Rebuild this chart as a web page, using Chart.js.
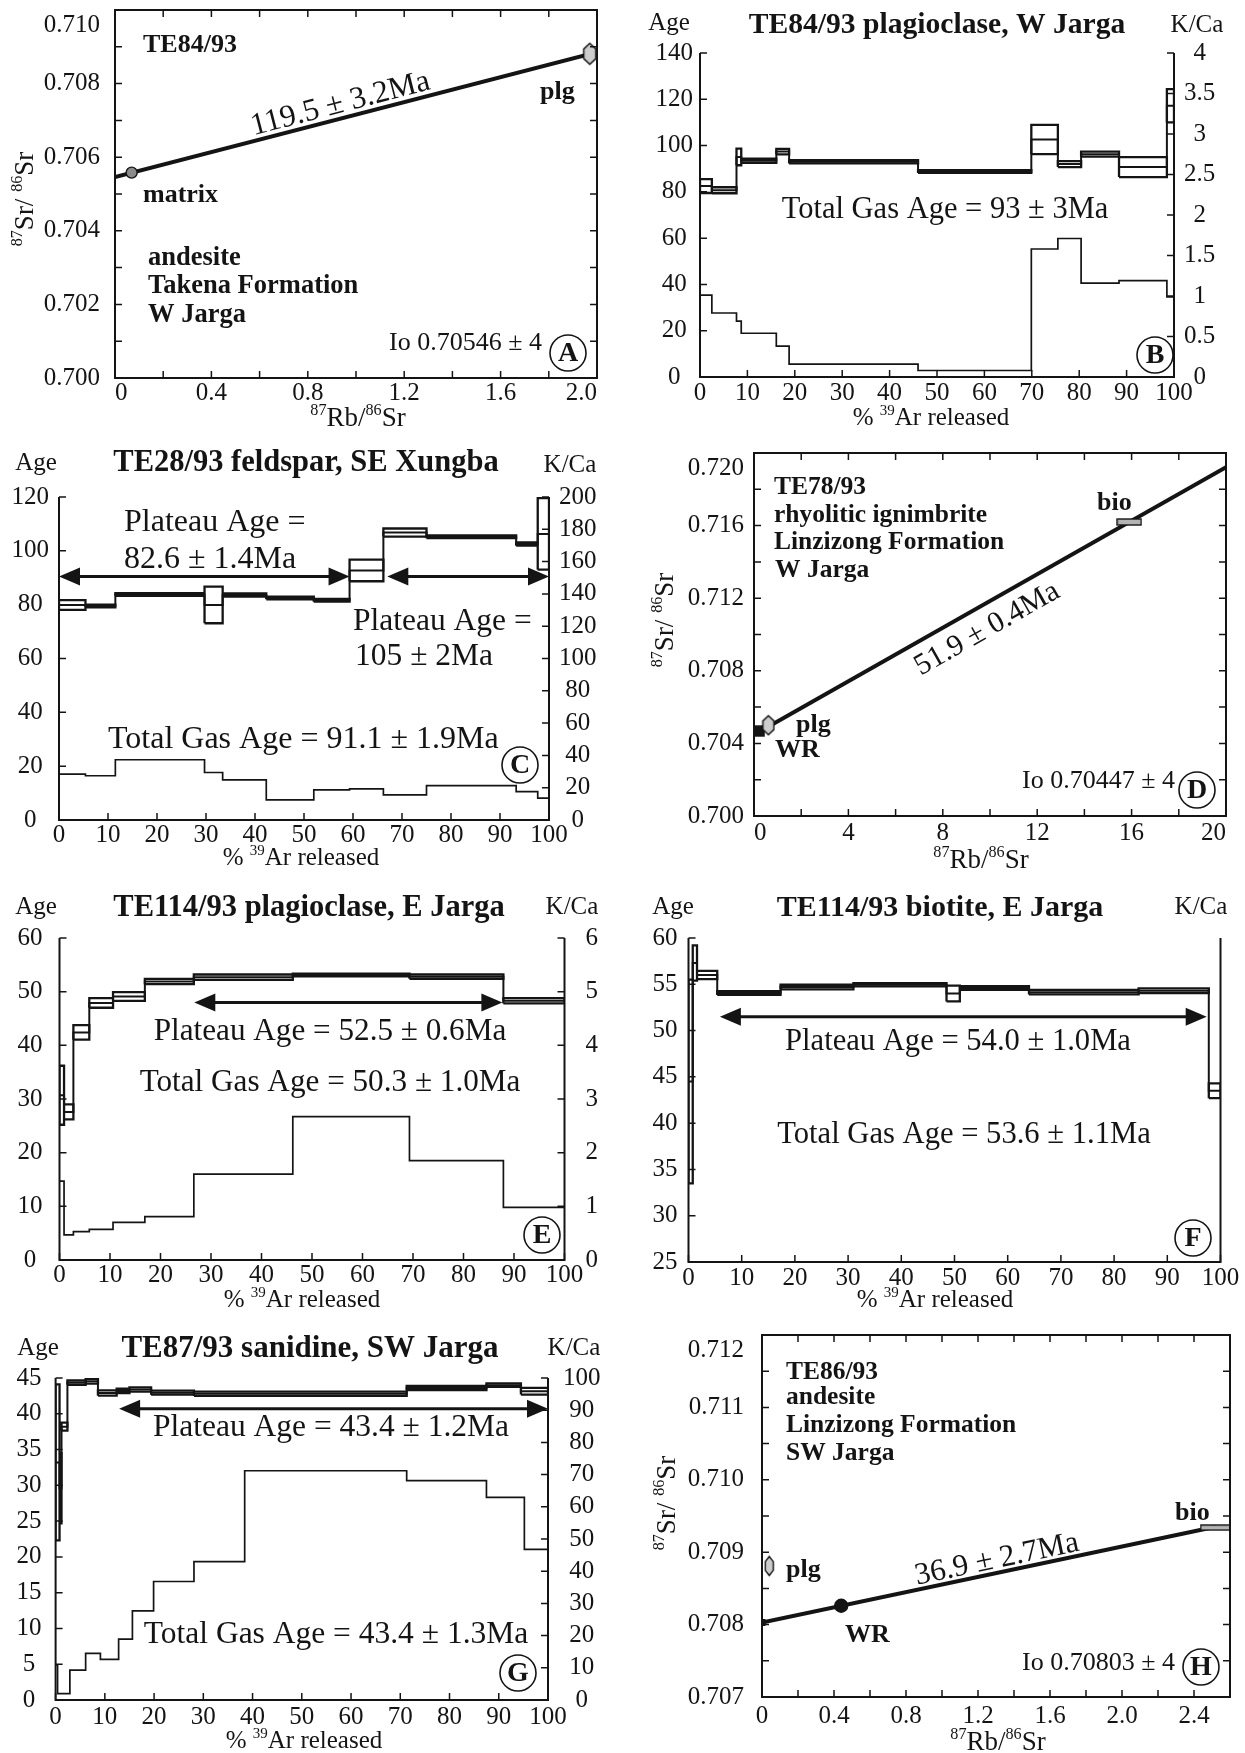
<!DOCTYPE html>
<html>
<head>
<meta charset="utf-8">
<title>Rb–Sr isochrons and 40Ar/39Ar age spectra, Jarga and Xungba</title>
<script src="https://cdn.jsdelivr.net/npm/chart.js@4.4.1/dist/chart.umd.min.js"></script>
<style>
  html, body { margin: 0; padding: 0; background: #fff; }
  #sheet { position: relative; width: 1245px; height: 1753px; overflow: hidden; background: #fff; }
  #sheet canvas { position: absolute; }
</style>
</head>
<body>
<div id="sheet">
  <canvas id="panelA" width="622" height="440" style="left:0px;top:0px"></canvas>
  <canvas id="panelB" width="623" height="440" style="left:622px;top:0px"></canvas>
  <canvas id="panelC" width="622" height="440" style="left:0px;top:440px"></canvas>
  <canvas id="panelD" width="623" height="440" style="left:622px;top:440px"></canvas>
  <canvas id="panelE" width="622" height="440" style="left:0px;top:880px"></canvas>
  <canvas id="panelF" width="623" height="440" style="left:622px;top:880px"></canvas>
  <canvas id="panelG" width="622" height="433" style="left:0px;top:1320px"></canvas>
  <canvas id="panelH" width="623" height="433" style="left:622px;top:1320px"></canvas>
</div>
<script>
// ===================== Rb–Sr isochron data =====================
// A — TE84/93 andesite, Takena Formation (matrix, plagioclase)
const isoA_phase = ['matrix', 'plg'];
const isoA_rb = [0.069, 1.97];            // 87Rb/86Sr
const isoA_sr = [0.70558, 0.70881];       // 87Sr/86Sr
const isoA_age = 119.5;                   // Ma
const isoA_io = 0.70546;                  // initial 87Sr/86Sr
const isoA_span = [0, 2.0];               // drawn extent of the isochron

// D — TE78/93 rhyolitic ignimbrite, Linzizong Formation
const isoD_phase = ['WR', 'plg', 'bio'];
const isoD_rb = [0.2, 0.61, 15.9];
const isoD_sr = [0.70468, 0.70500, 0.71620];
const isoD_age = 51.9;
const isoD_io = 0.70447;
const isoD_span = [0.6, 20];

// H — TE86/93 andesite, Linzizong Formation
const isoH_phase = ['Io', 'WR', 'plg', 'bio'];
const isoH_rb = [0, 0.44, 0.04, 2.52];
const isoH_sr = [0.70803, 0.70826, 0.70881, 0.70934];
const isoH_age = 36.9;
const isoH_io = 0.70803;
const isoH_span = [0, 2.52];

// ===================== 40Ar/39Ar step-heating data =====================
// cumulative % 39Ar at step boundaries, apparent age (Ma), 1σ half-height, K/Ca
// B — TE84/93 plagioclase
const specB_cum = [0, 2.5, 7.7, 8.7, 16.1, 18.8, 46.0, 69.9, 75.5, 80.4, 88.4, 98.5, 100];
const specB_age = [82.5, 80.7, 95.1, 93.4, 97.4, 93.0, 88.8, 102.6, 92.0, 96.3, 90.7, 117.2];
const specB_err = [3.0, 1.3, 3.6, 0.9, 1.2, 0.7, 0.6, 6.3, 1.3, 1.1, 4.3, 7.2];
const specB_kca = [1.01, 0.79, 0.69, 0.54, 0.38, 0.16, 0.08, 1.58, 1.71, 1.16, 1.19, 0.99];

// C — TE28/93 feldspar
const specC_cum = [0, 5.4, 11.5, 29.7, 33.4, 42.3, 52.0, 59.3, 66.2, 75.0, 93.3, 97.7, 100];
const specC_age = [79.9, 79.5, 83.8, 79.9, 83.6, 82.5, 81.6, 92.7, 106.8, 105.2, 102.5, 106.3];
const specC_err = [1.8, 0.5, 0.5, 6.8, 0.6, 0.5, 0.5, 4.0, 1.5, 0.5, 0.6, 13.3];
const specC_kca = [28.4, 27.4, 37.3, 29.4, 24.9, 12.4, 18.7, 19.3, 15.5, 21.3, 17.6, 13.5];
const plateauC_from = [0, 67.0];
const plateauC_to = [59.3, 100];
const plateauC_at = [90.5, 90.5];

// E — TE114/93 plagioclase
const specE_cum = [0, 0.9, 2.75, 5.9, 10.6, 16.9, 26.6, 46.2, 69.3, 87.9, 100];
const specE_age = [30.7, 27.6, 42.4, 47.9, 49.1, 51.9, 52.7, 53.1, 52.8, 48.3];
const specE_err = [5.5, 1.4, 1.35, 0.9, 0.8, 0.5, 0.5, 0.25, 0.4, 0.5];
const specE_kca = [1.47, 0.47, 0.53, 0.57, 0.70, 0.81, 1.60, 2.67, 1.85, 0.98];
const plateauE_from = [26.7];
const plateauE_to = [87.7];
const plateauE_at = [48.0];

// F — TE114/93 biotite
const specF_cum = [0, 0.8, 1.6, 5.4, 17.3, 31.0, 48.5, 51.0, 64.0, 84.6, 97.8, 100];
const specF_age = [44.5, 57.3, 56.0, 54.05, 54.7, 54.95, 54.0, 54.6, 54.15, 54.3, 43.5];
const specF_err = [11.0, 1.9, 0.45, 0.2, 0.25, 0.18, 0.85, 0.2, 0.25, 0.25, 0.8];
const plateauF_from = [5.9];
const plateauF_to = [97.4];
const plateauF_at = [51.5];

// G — TE87/93 sanidine
const specG_cum = [0, 0.8, 1.2, 2.4, 6.1, 8.6, 12.4, 15.0, 19.4, 28.1, 71.3, 87.5, 94.5, 100];
const specG_age = [33.2, 29.6, 38.2, 44.35, 44.55, 42.9, 43.2, 43.4, 42.95, 42.8, 43.6, 44.0, 43.15];
const specG_err = [10.9, 4.9, 0.55, 0.3, 0.33, 0.37, 0.3, 0.3, 0.28, 0.3, 0.28, 0.25, 0.47];
const specG_kcaCum = [0, 0.4, 2.9, 6.1, 9.1, 12.8, 15.6, 19.9, 28.1, 38.4, 71.3, 87.5, 95.2, 100];
const specG_kca = [10.9, 2.0, 9.3, 14.5, 12.6, 18.9, 27.7, 36.8, 43.0, 71.2, 68.1, 62.9, 46.8];
const plateauG_from = [12.9];
const plateauG_to = [100];
const plateauG_at = [40.7];

// ===================== drawing =====================
const SERIF = '"Liberation Serif", "Times New Roman", "DejaVu Serif", serif';
const INK = '#141414';
Chart.defaults.font.family = SERIF;
Chart.defaults.font.size = 25;
Chart.defaults.color = INK;

const LAMBDA_RB = 1.42e-11;                       // 87Rb decay constant (1/yr)
const isochronSlope = ageMa => Math.expm1(LAMBDA_RB * ageMa * 1e6);
const font = (size, bold) => (bold ? 'bold ' : '') + size + 'px ' + SERIF;
const isStep = (v, step) => Math.abs(v / step - Math.round(v / step)) < 1e-6;

function boxPoints(cum, age, err) {
  const pts = [];
  age.forEach((a, i) => {
    const x0 = cum[i], x1 = cum[i + 1], lo = a - err[i], hi = a + err[i];
    pts.push({x: x0, y: lo}, {x: x1, y: lo}, {x: x1, y: hi}, {x: x0, y: hi}, {x: x0, y: lo}, {x: null, y: null});
  });
  return pts;
}
function stairPoints(cum, val) {
  const pts = [];
  val.forEach((v, i) => pts.push({x: cum[i], y: v}, {x: cum[i + 1], y: v}));
  return pts;
}

function hexMarker(w, h, fill) {
  const c = document.createElement('canvas');
  c.width = w + 3; c.height = h + 3;
  const g = c.getContext('2d');
  const o = 1.5;
  g.beginPath();
  g.moveTo(o + w * 0.5, o);
  g.lineTo(o + w, o + h * 0.27);
  g.lineTo(o + w, o + h * 0.73);
  g.lineTo(o + w * 0.5, o + h);
  g.lineTo(o, o + h * 0.73);
  g.lineTo(o, o + h * 0.27);
  g.closePath();
  g.fillStyle = fill; g.fill();
  g.lineWidth = 1.4; g.strokeStyle = INK; g.stroke();
  return c;
}
function barMarker(w, h, fill) {
  const c = document.createElement('canvas');
  c.width = w + 2; c.height = h + 2;
  const g = c.getContext('2d');
  g.fillStyle = fill; g.fillRect(1, 1, w, h);
  g.lineWidth = 1.4; g.strokeStyle = INK; g.strokeRect(1, 1, w, h);
  return c;
}

function text(ctx, s, x, y, size, bold, align) {
  ctx.font = font(size, bold);
  ctx.textAlign = align || 'left';
  ctx.textBaseline = 'middle';
  ctx.fillText(s, x, y);
}
// text with superscript isotope numbers; (x, y) is the centre of the run
function richText(ctx, parts, x, y, size, rot) {
  ctx.save();
  ctx.translate(x, y);
  if (rot) ctx.rotate(rot);
  ctx.textAlign = 'left';
  ctx.textBaseline = 'alphabetic';
  let w = 0;
  parts.forEach(([t, sup]) => { ctx.font = font(sup ? size * 0.6 : size); w += ctx.measureText(t).width; });
  let cx = -w / 2;
  const base = size * 0.33;
  parts.forEach(([t, sup]) => {
    ctx.font = font(sup ? size * 0.6 : size);
    ctx.fillText(t, cx, sup ? base - size * 0.42 : base);
    cx += ctx.measureText(t).width;
  });
  ctx.restore();
}
function circled(ctx, letter, x, y) {
  ctx.lineWidth = 1.6;
  ctx.beginPath(); ctx.arc(x, y, 18, 0, Math.PI * 2); ctx.stroke();
  text(ctx, letter, x, y + 1, 28, true, 'center');
}
function arrow(ctx, x0, x1, y) {
  const hl = 21, hw = 9;
  ctx.lineWidth = 3;
  ctx.beginPath(); ctx.moveTo(x0 + hl - 2, y); ctx.lineTo(x1 - hl + 2, y); ctx.stroke();
  ctx.beginPath(); ctx.moveTo(x0, y); ctx.lineTo(x0 + hl, y - hw); ctx.lineTo(x0 + hl, y + hw); ctx.closePath(); ctx.fill();
  ctx.beginPath(); ctx.moveTo(x1, y); ctx.lineTo(x1 - hl, y - hw); ctx.lineTo(x1 - hl, y + hw); ctx.closePath(); ctx.fill();
}

const ARTITLE = [['% ', 0], ['39', 1], ['Ar released', 0]];
const RBSR = [['87', 1], ['Rb/', 0], ['86', 1], ['Sr', 0]];
const SRSR = [['87', 1], ['Sr/ ', 0], ['86', 1], ['Sr', 0]];

// overlay: frame, inward ticks, arrows and lettering
function decoration(p) {
  return {
    id: 'deco',
    afterDraw(chart) {
      const ctx = chart.ctx, ca = chart.chartArea, S = chart.scales;
      const X = v => v - p.ox, Y = v => v - p.oy;
      ctx.save();
      ctx.strokeStyle = INK; ctx.fillStyle = INK;
      ctx.lineWidth = 2;
      ctx.beginPath();
      if (p.boxed) {
        ctx.rect(ca.left, ca.top, ca.right - ca.left, ca.bottom - ca.top);
      } else {
        ctx.moveTo(ca.left, ca.top); ctx.lineTo(ca.left, ca.bottom);
        ctx.lineTo(ca.right, ca.bottom); ctx.lineTo(ca.right, ca.top);
      }
      ctx.stroke();

      const T = 7;
      ctx.lineWidth = 1.5;
      ctx.beginPath();
      S.x.ticks.forEach(t => {
        const x = S.x.getPixelForValue(t.value);
        ctx.moveTo(x, ca.bottom); ctx.lineTo(x, ca.bottom - T);
        if (p.boxed) { ctx.moveTo(x, ca.top); ctx.lineTo(x, ca.top + T); }
      });
      S.y.ticks.forEach(t => {
        const y = S.y.getPixelForValue(t.value);
        ctx.moveTo(ca.left, y); ctx.lineTo(ca.left + T, y);
        if (p.boxed) { ctx.moveTo(ca.right, y); ctx.lineTo(ca.right - T, y); }
      });
      if (S.y2) S.y2.ticks.forEach(t => {
        const y = S.y2.getPixelForValue(t.value);
        ctx.moveTo(ca.right, y); ctx.lineTo(ca.right - T, y);
      });
      ctx.stroke();

      if (p.arrows) {
        const [from, to, at] = p.arrows;
        from.forEach((f, i) => arrow(ctx, S.x.getPixelForValue(f), S.x.getPixelForValue(to[i]), S.y.getPixelForValue(at[i])));
      }

      if (p.title) text(ctx, p.title[0], X(p.title[1]), Y(p.title[2]), p.title[3], true, 'center');
      if (p.ageLbl) text(ctx, 'Age', X(p.ageLbl[0]), Y(p.ageLbl[1]), 25, false, 'center');
      if (p.kcaLbl) text(ctx, 'K/Ca', X(p.kcaLbl[0]), Y(p.kcaLbl[1]), 25, false, 'center');
      (p.notes || []).forEach(n => text(ctx, n[0], X(n[1]), Y(n[2]), n[3], n[4], n[5]));
      richText(ctx, p.xTitle[0], X(p.xTitle[1]), Y(p.xTitle[2]), p.xTitle[3]);
      if (p.yTitle) richText(ctx, p.yTitle[0], X(p.yTitle[1]), Y(p.yTitle[2]), p.yTitle[3], -Math.PI / 2);

      if (p.iso) {
        const {io, age, span, at, off, label, size} = p.iso;
        const m = isochronSlope(age);
        const px0 = S.x.getPixelForValue(span[0]), py0 = S.y.getPixelForValue(io + m * span[0]);
        const px1 = S.x.getPixelForValue(span[1]), py1 = S.y.getPixelForValue(io + m * span[1]);
        const ang = Math.atan2(py1 - py0, px1 - px0);
        ctx.save();
        ctx.translate(S.x.getPixelForValue(at), S.y.getPixelForValue(io + m * at));
        ctx.rotate(ang);
        text(ctx, label, 0, off, size, false, 'center');
        ctx.restore();
      }
      circled(ctx, p.letter[0], X(p.letter[1]), Y(p.letter[2]));
      ctx.restore();
    }
  };
}

function baseOptions(p, scales) {
  return {
    responsive: false,
    animation: false,
    events: [],
    layout: { padding: { left: 0, top: p.padTop, right: p.padRight || 0, bottom: 0 } },
    plugins: { legend: { display: false }, tooltip: { enabled: false } },
    scales
  };
}
const hidden = { grid: { display: false, drawTicks: false }, border: { display: false } };

function xAxis(p, min, max, step, fmt, pad, align) {
  return Object.assign({
    type: 'linear', position: 'bottom', min, max,
    ticks: { stepSize: step, autoSkip: false, maxRotation: 0, minRotation: 0, padding: pad, align: align || 'center', callback: fmt },
    afterFit(s) { s.height = p.xH; s.paddingLeft = 0; s.paddingRight = 0; }
  }, hidden);
}
function yAxis(p, pos, min, max, step, fmt, pad, cross, width) {
  return Object.assign({
    type: 'linear', position: pos, min, max,
    ticks: { stepSize: step, autoSkip: false, padding: pad, crossAlign: cross, callback: fmt },
    afterFit(s) { s.width = width; s.paddingTop = 0; s.paddingBottom = 0; }
  }, hidden);
}

function spectrumChart(p) {
  const lineDs = (data, axis, w) => ({ data, yAxisID: axis, showLine: true, borderColor: INK, borderWidth: w,
    pointRadius: 0, fill: false, spanGaps: false, tension: 0 });
  const datasets = [
    lineDs(boxPoints(p.cum, p.age, p.err), 'y', 2.3),
    lineDs(stairPoints(p.cum, p.age), 'y', 2.0)
  ];
  const scales = {
    x: xAxis(p, 0, 100, 10, v => String(v), p.xPad),
    y: yAxis(p, 'left', p.yMin, p.yMax, p.yStep, v => String(v), p.yPad, 'center', p.yW)
  };
  if (p.kca) {
    datasets.push(lineDs(stairPoints(p.kcaCum || p.cum, p.kca), 'y2', 1.7));
    scales.y2 = yAxis(p, 'right', 0, p.kMax, p.kStep, v => String(v), p.kPad, 'center', p.kW);
  }
  new Chart(document.getElementById(p.id), {
    type: 'scatter', data: { datasets }, options: baseOptions(p, scales), plugins: [decoration(p)]
  });
}

function isochronChart(p) {
  const m = isochronSlope(p.iso.age);
  const line = p.iso.span.map(x => ({ x, y: p.iso.io + m * x }));
  const pts = p.rb.map((x, i) => ({ x, y: p.sr[i] }));
  const datasets = [
    { data: pts, pointStyle: p.marks.map(k => k.style), pointRadius: p.marks.map(k => k.r),
      pointBackgroundColor: p.marks.map(k => k.fill), pointBorderColor: INK, pointBorderWidth: 1.4 },
    { data: line, showLine: true, borderColor: INK, borderWidth: 4, pointRadius: 0, tension: 0 }
  ];
  const scales = {
    x: xAxis(p, p.xMin, p.xMax, p.xMinor, p.xFmt, p.xPad, p.xAlign),
    y: yAxis(p, 'left', p.yMin, p.yMax, p.yMinor, p.yFmt, p.yPad, 'near', p.yW)
  };
  new Chart(document.getElementById(p.id), {
    type: 'scatter', data: { datasets }, options: baseOptions(p, scales), plugins: [decoration(p)]
  });
}

// the topmost ratio label sits just inside the frame, below its tick
const fmtRatio = (major, top) => v => {
  if (!isStep(v, major)) return '';
  const s = v.toFixed(3);
  return Math.abs(v - top) < 1e-9 ? ['', s] : s;
};
const fmtOneDec = major => v => isStep(v, major) ? (Math.abs(v) < 1e-9 ? '0' : v.toFixed(1)) : '';
const fmtInt = major => v => isStep(v, major) ? String(Math.round(v)) : '';

// ---------- A ----------
isochronChart({
  id: 'panelA', ox: 0, oy: 0, boxed: true,
  padTop: 10, padRight: 25, yW: 115, xH: 62,
  xMin: 0, xMax: 2.0, xMinor: 0.2, xFmt: fmtOneDec(0.4), xPad: 0, xAlign: 'inner',
  yMin: 0.700, yMax: 0.710, yMinor: 0.001, yFmt: fmtRatio(0.002, 0.710), yPad: 15,
  rb: isoA_rb, sr: isoA_sr,
  marks: [
    { style: 'circle', r: 5.5, fill: '#8a8a8a' },
    { style: hexMarker(12, 21, '#cdcdcd'), r: 5, fill: '#cdcdcd' }
  ],
  iso: { io: isoA_io, age: isoA_age, span: isoA_span, at: 0.95, off: -14, size: 31.5, label: isoA_age + ' \u00b1 3.2Ma' },
  xTitle: [RBSR, 358, 417, 27],
  yTitle: [SRSR, 24, 199, 27],
  notes: [
    ['TE84/93', 143, 45, 26, true],
    [isoA_phase[0], 143, 195, 26, true],
    ['andesite', 148, 258, 26.5, true],
    ['Takena Formation', 148, 286, 26.5, true],
    ['W Jarga', 148, 315, 26.5, true],
    [isoA_phase[1], 540, 92, 26, true],
    ['Io ' + isoA_io + ' \u00b1 4', 389, 343, 26, false]
  ],
  letter: ['A', 568, 353]
});

// ---------- B ----------
spectrumChart({
  id: 'panelB', ox: 622, oy: 0,
  padTop: 53, yW: 78, kW: 71, xH: 63, xPad: 1,
  cum: specB_cum, age: specB_age, err: specB_err, kca: specB_kca,
  yMin: 0, yMax: 140, yStep: 20, yPad: 7,
  kMax: 4, kStep: 0.5, kPad: 10,
  title: ['TE84/93 plagioclase, W Jarga', 937, 25, 29.6],
  ageLbl: [669, 23], kcaLbl: [1197, 25],
  xTitle: [ARTITLE, 931, 417, 25],
  notes: [['Total Gas Age = 93 \u00b1 3Ma', 945, 210, 30.5, false, 'center']],
  letter: ['B', 1155, 355]
});

// ---------- C ----------
spectrumChart({
  id: 'panelC', ox: 0, oy: 440,
  padTop: 57, yW: 59, kW: 73, xH: 60, xPad: 0,
  cum: specC_cum, age: specC_age, err: specC_err, kca: specC_kca,
  yMin: 0, yMax: 120, yStep: 20, yPad: 10,
  kMax: 200, kStep: 20, kPad: 10,
  arrows: [plateauC_from, plateauC_to, plateauC_at],
  title: ['TE28/93 feldspar, SE Xungba', 306, 463, 30.5],
  ageLbl: [36, 463], kcaLbl: [570, 465],
  xTitle: [ARTITLE, 301, 857, 25],
  notes: [
    ['Plateau Age =', 124, 523, 32, false],
    ['82.6 \u00b1 1.4Ma', 124, 560, 32, false],
    ['Plateau Age =', 353, 622, 31.5, false],
    ['105 \u00b1 2Ma', 355, 657, 31.5, false],
    ['Total Gas Age = 91.1 \u00b1 1.9Ma', 108, 740, 32, false]
  ],
  letter: ['C', 520, 765]
});

// ---------- D ----------
isochronChart({
  id: 'panelD', ox: 622, oy: 440, boxed: true,
  padTop: 13, padRight: 19, yW: 132, xH: 64,
  xMin: 0, xMax: 20, xMinor: 2, xFmt: fmtInt(4), xPad: 2, xAlign: 'inner',
  yMin: 0.700, yMax: 0.720, yMinor: 0.002, yFmt: fmtRatio(0.004, 0.720), yPad: 10,
  rb: isoD_rb, sr: isoD_sr,
  marks: [
    { style: barMarker(11, 10, INK), r: 5, fill: INK },
    { style: hexMarker(11, 19, '#cdcdcd'), r: 5, fill: '#cdcdcd' },
    { style: barMarker(24, 6, '#b4b4b4'), r: 5, fill: '#b4b4b4' }
  ],
  iso: { io: isoD_io, age: isoD_age, span: isoD_span, at: 9.4, off: 23, size: 30, label: isoD_age + ' \u00b1 0.4Ma' },
  xTitle: [RBSR, 981, 859, 27],
  yTitle: [SRSR, 664, 620, 27],
  notes: [
    ['TE78/93', 774, 487, 25.5, true],
    ['rhyolitic ignimbrite', 774, 515, 25.5, true],
    ['Linzizong Formation', 774, 542, 25.5, true],
    ['W Jarga', 775, 570, 25.5, true],
    [isoD_phase[1], 796, 725, 26, true],
    [isoD_phase[0], 775, 750, 26, true],
    [isoD_phase[2], 1097, 503, 26, true],
    ['Io ' + isoD_io + ' \u00b1 4', 1022, 781, 26, false]
  ],
  letter: ['D', 1197, 790]
});

// ---------- E ----------
spectrumChart({
  id: 'panelE', ox: 0, oy: 880,
  padTop: 58, yW: 59.5, kW: 57.5, xH: 60, xPad: 0,
  cum: specE_cum, age: specE_age, err: specE_err, kca: specE_kca,
  yMin: 0, yMax: 60, yStep: 10, yPad: 17,
  kMax: 6, kStep: 1, kPad: 21,
  arrows: [plateauE_from, plateauE_to, plateauE_at],
  title: ['TE114/93 plagioclase, E Jarga', 309, 908, 30.5],
  ageLbl: [36, 907], kcaLbl: [572, 907],
  xTitle: [ARTITLE, 302, 1299, 25],
  notes: [
    ['Plateau Age = 52.5 \u00b1 0.6Ma', 330, 1032, 31.2, false, 'center'],
    ['Total Gas Age = 50.3 \u00b1 1.0Ma', 330, 1083, 31.2, false, 'center']
  ],
  letter: ['E', 542, 1235]
});

// ---------- F ----------
spectrumChart({
  id: 'panelF', ox: 622, oy: 880,
  padTop: 58, padRight: 24.5, yW: 66.5, xH: 58, xPad: 1,
  cum: specF_cum, age: specF_age, err: specF_err,
  yMin: 25, yMax: 60, yStep: 5, yPad: 11,
  arrows: [plateauF_from, plateauF_to, plateauF_at],
  title: ['TE114/93 biotite, E Jarga', 940, 908, 30],
  ageLbl: [673, 907], kcaLbl: [1201, 907],
  xTitle: [ARTITLE, 935, 1299, 25],
  notes: [
    ['Plateau Age = 54.0 \u00b1 1.0Ma', 958, 1042, 30.6, false, 'center'],
    ['Total Gas Age = 53.6 \u00b1 1.1Ma', 964, 1135, 30.6, false, 'center']
  ],
  letter: ['F', 1193, 1238]
});

// ---------- G ----------
spectrumChart({
  id: 'panelG', ox: 0, oy: 1320,
  padTop: 58, yW: 55.6, kW: 74, xH: 53, xPad: 2,
  cum: specG_cum, age: specG_age, err: specG_err, kca: specG_kca, kcaCum: specG_kcaCum,
  yMin: 0, yMax: 45, yStep: 5, yPad: 14,
  kMax: 100, kStep: 10, kPad: 15,
  arrows: [plateauG_from, plateauG_to, plateauG_at],
  title: ['TE87/93 sanidine, SW Jarga', 310, 1349, 31],
  ageLbl: [38, 1348], kcaLbl: [574, 1348],
  xTitle: [ARTITLE, 304, 1740, 25],
  notes: [
    ['Plateau Age = 43.4 \u00b1 1.2Ma', 331, 1428, 31.5, false, 'center'],
    ['Total Gas Age = 43.4 \u00b1 1.3Ma', 336, 1635, 31.5, false, 'center']
  ],
  letter: ['G', 518, 1673]
});

// ---------- H ----------
isochronChart({
  id: 'panelH', ox: 622, oy: 1320, boxed: true,
  padTop: 15, padRight: 15, yW: 140, xH: 56,
  xMin: 0, xMax: 2.6, xMinor: 0.2, xFmt: fmtOneDec(0.4), xPad: 4,
  yMin: 0.707, yMax: 0.712, yMinor: 0.0005, yFmt: fmtRatio(0.001, 0.712), yPad: 18,
  rb: isoH_rb, sr: isoH_sr,
  marks: [
    { style: 'rect', r: 4, fill: INK },
    { style: 'circle', r: 6.5, fill: INK },
    { style: hexMarker(8, 19, '#cdcdcd'), r: 5, fill: '#cdcdcd' },
    { style: barMarker(30, 5, '#b4b4b4'), r: 5, fill: '#b4b4b4' }
  ],
  iso: { io: isoH_io, age: isoH_age, span: isoH_span, at: 1.32, off: -13, size: 31, label: isoH_age + ' \u00b1 2.7Ma' },
  xTitle: [RBSR, 998, 1741, 27],
  yTitle: [SRSR, 666, 1503, 27],
  notes: [
    ['TE86/93', 786, 1372, 25.5, true],
    ['andesite', 786, 1397, 25.5, true],
    ['Linzizong Formation', 786, 1425, 25.5, true],
    ['SW Jarga', 786, 1453, 25.5, true],
    [isoH_phase[2], 786, 1570, 26, true],
    [isoH_phase[1], 845, 1635, 26, true],
    [isoH_phase[3], 1175, 1513, 26, true],
    ['Io ' + isoH_io + ' \u00b1 4', 1022, 1663, 26, false]
  ],
  letter: ['H', 1201, 1667]
});
</script>
</body>
</html>
